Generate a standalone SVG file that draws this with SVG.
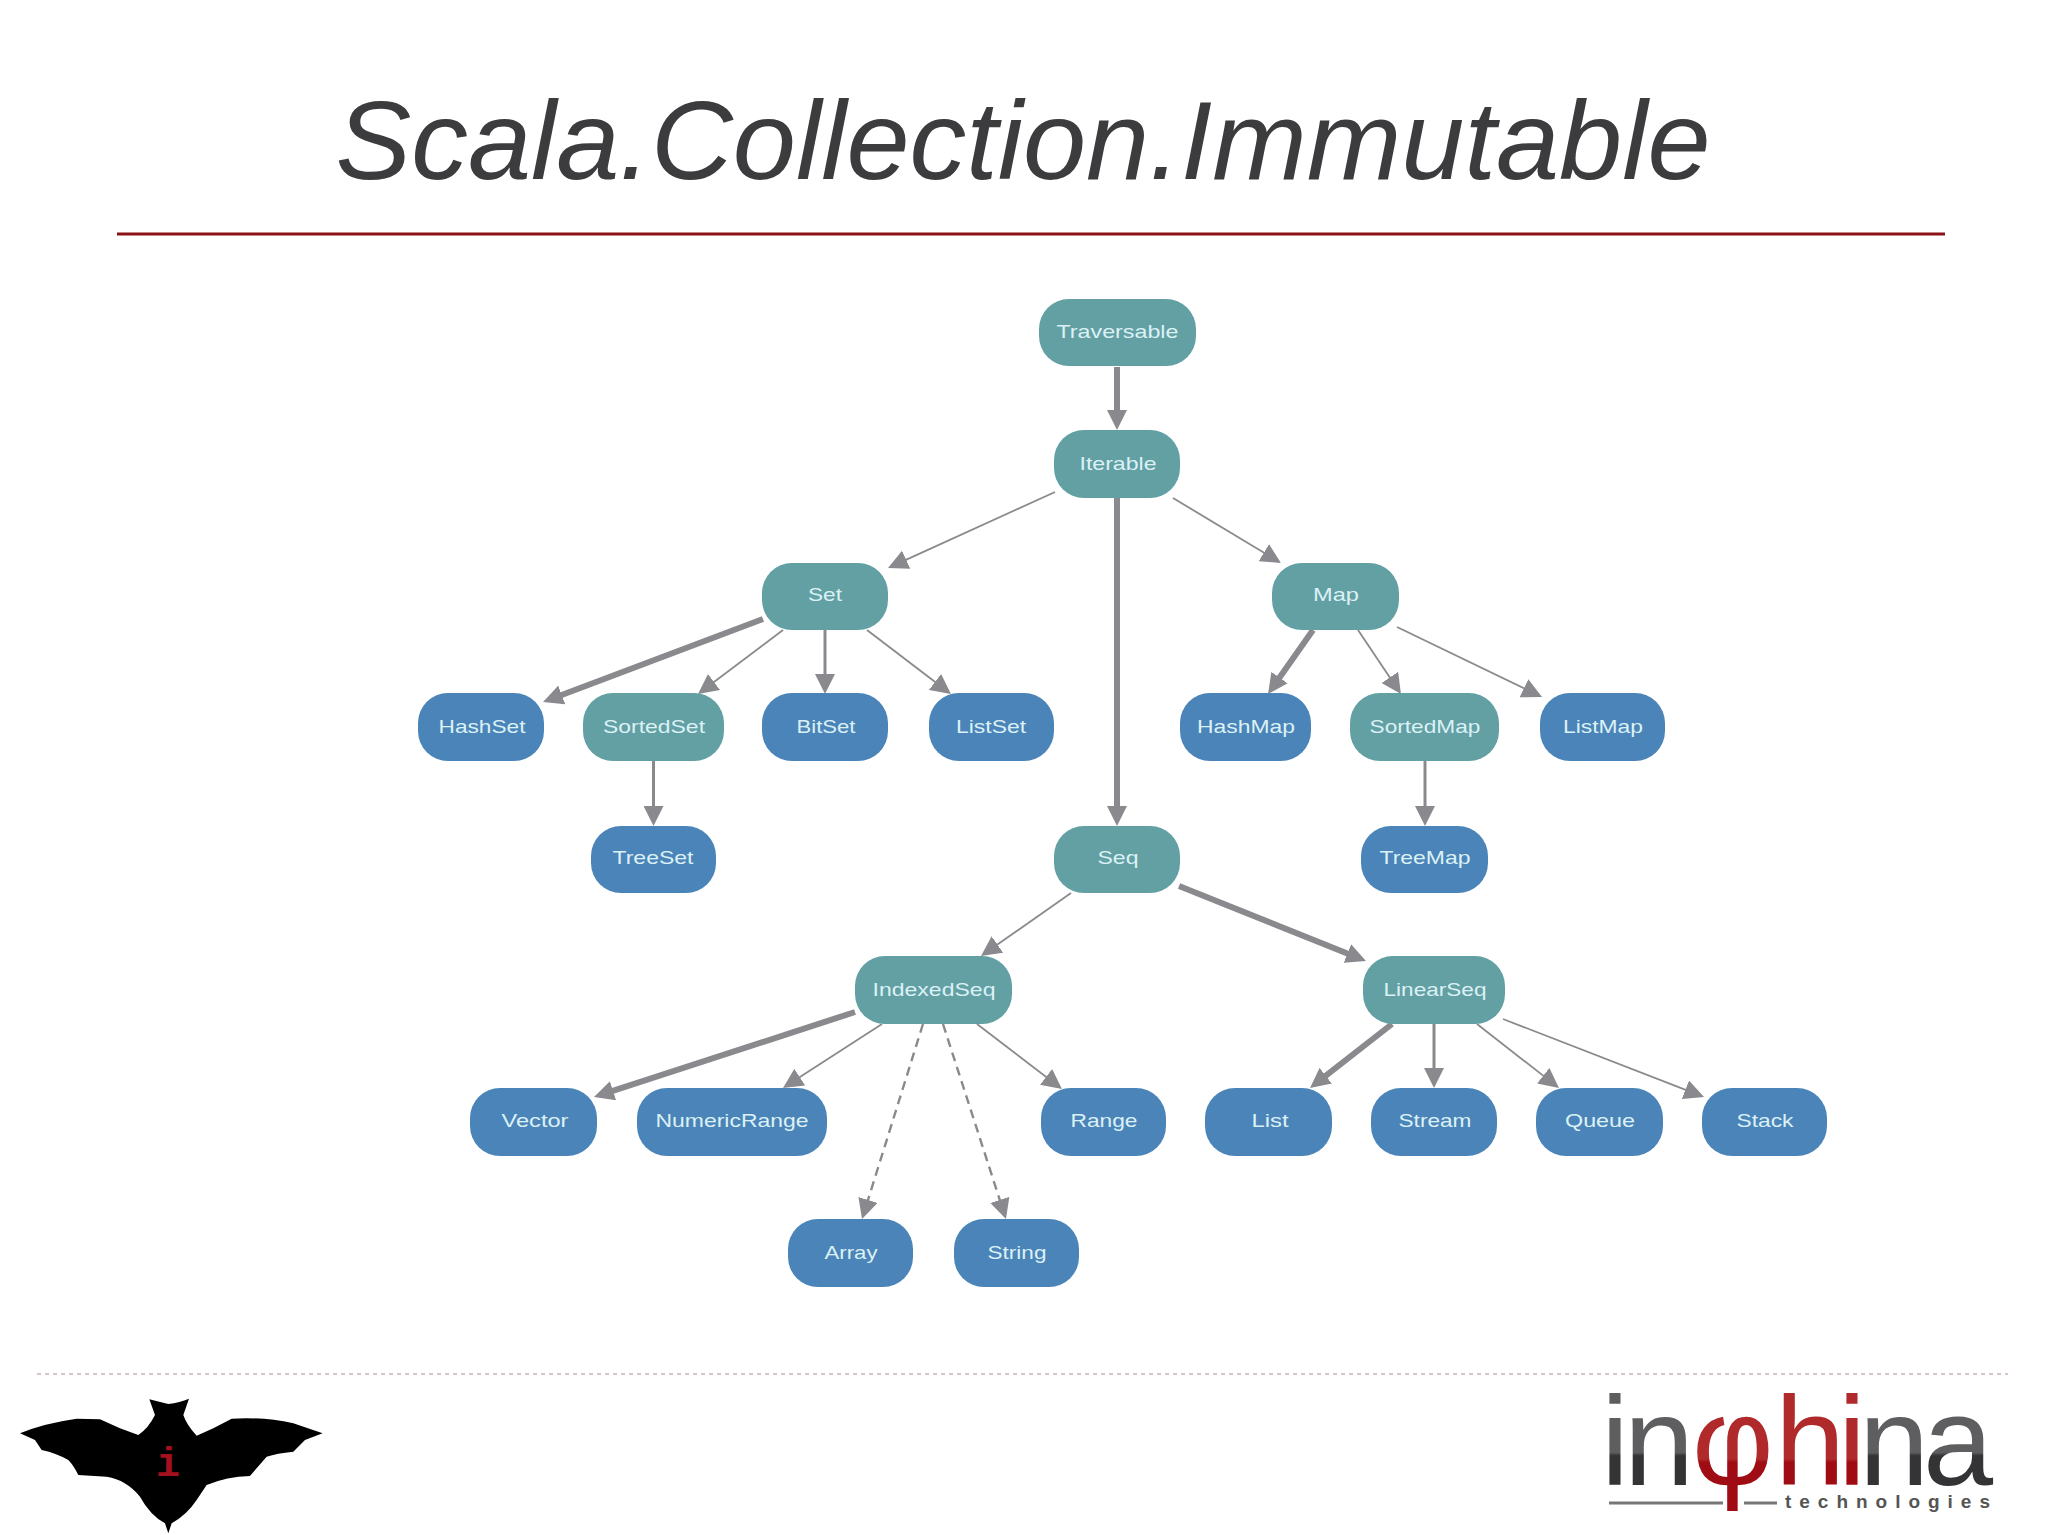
<svg xmlns="http://www.w3.org/2000/svg" width="2048" height="1535" viewBox="0 0 2048 1535">
<style>
text{font-family:"Liberation Sans",Arial,sans-serif}
.n rect{rx:30px;ry:30px}
.t rect{fill:#62a0a3}
.b rect{fill:#4a84b8}
.n text{font-size:19px;text-anchor:middle;fill:#dcf1f6}
#connectors path{fill:none;stroke:#8a8a8e;marker-end:url(#ah)}
.w1{stroke-width:1.8px}
.w2{stroke-width:3px}
.w3{stroke-width:6px}
.d{stroke-dasharray:9 6;stroke-width:2.4px}
.dark{fill:url(#gd)}
.red{fill:url(#gr)}
.logo{font-size:126px}
</style>
<defs>
<marker id="ah" markerUnits="userSpaceOnUse" markerWidth="20" markerHeight="20" refX="10" refY="10" orient="auto"><path d="M0 0L20 10L0 20Z" fill="#8a8a8e"/></marker>
<linearGradient id="gd" x1="0" y1="1420" x2="0" y2="1485" gradientUnits="userSpaceOnUse"><stop offset="0" stop-color="#5e5e60"/><stop offset=".5" stop-color="#5e5e60"/><stop offset=".55" stop-color="#343436"/><stop offset="1" stop-color="#343436"/></linearGradient>
<linearGradient id="gr" x1="0" y1="1420" x2="0" y2="1485" gradientUnits="userSpaceOnUse"><stop offset="0" stop-color="#b02a2c"/><stop offset=".6" stop-color="#b02a2c"/><stop offset=".65" stop-color="#a00c14"/><stop offset="1" stop-color="#a00c14"/></linearGradient>
</defs>
<rect width="2048" height="1535" fill="#fff"/>
<text x="1023" y="179" font-size="112" font-style="italic" fill="#3c3c3e" text-anchor="middle" textLength="1375" lengthAdjust="spacingAndGlyphs">Scala.Collection.Immutable</text>
<path d="M117 234H1945" stroke="#8b1214" stroke-width="3"/>
<path d="M37 1374H2008" stroke="#c9b4b8" stroke-width="1.5" stroke-dasharray="4 4"/>
<g id="connectors">
<path class="w3" d="M1117 367V420"/>
<path class="w1" d="M1055 492L897.1 563.9"/>
<path class="w3" d="M1117 498V816"/>
<path class="w1" d="M1173 498L1272.4 557.8"/>
<path class="w3" d="M763 619L552.4 698.5"/>
<path class="w1" d="M783 630L706 688"/>
<path class="w2" d="M825 630V684"/>
<path class="w1" d="M867 630L943 688"/>
<path class="w2" d="M653.5 761V816"/>
<path class="w3" d="M1313 630L1273.8 685.8"/>
<path class="w1" d="M1358 630L1395.4 685.7"/>
<path class="w1" d="M1397 627L1533 692.6"/>
<path class="w2" d="M1425 761V816"/>
<path class="w1" d="M1071 893L989.2 950.3"/>
<path class="w3" d="M1179 886L1356.7 957.3"/>
<path class="w3" d="M855 1012L603.5 1093.9"/>
<path class="w1" d="M882 1024L791.4 1082.6"/>
<path class="d" d="M923 1024L865 1209.5"/>
<path class="d" d="M943 1024L1002.9 1209.5"/>
<path class="w1" d="M977 1024L1054 1083"/>
<path class="w3" d="M1392 1024L1317.9 1081.9"/>
<path class="w2" d="M1434 1024V1078"/>
<path class="w1" d="M1477 1024L1551.1 1081.9"/>
<path class="w1" d="M1503 1019L1694.7 1093.4"/>
</g>
<g id="Traversable" class="n t"><rect x="1039" y="299" width="157" height="67"/><text x="1117.5" y="338" textLength="122" lengthAdjust="spacingAndGlyphs">Traversable</text></g>
<g id="Iterable" class="n t"><rect x="1054" y="430" width="126" height="68"/><text x="1118" y="470" textLength="77" lengthAdjust="spacingAndGlyphs">Iterable</text></g>
<g id="Set" class="n t"><rect x="762" y="563" width="126" height="67"/><text x="825" y="601" textLength="34" lengthAdjust="spacingAndGlyphs">Set</text></g>
<g id="Map" class="n t"><rect x="1272" y="563" width="127" height="67"/><text x="1336" y="601" textLength="46" lengthAdjust="spacingAndGlyphs">Map</text></g>
<g id="HashSet" class="n b"><rect x="418" y="693" width="126" height="68"/><text x="482" y="733" textLength="87" lengthAdjust="spacingAndGlyphs">HashSet</text></g>
<g id="SortedSet" class="n t"><rect x="583" y="693" width="141" height="68"/><text x="654" y="733" textLength="102" lengthAdjust="spacingAndGlyphs">SortedSet</text></g>
<g id="BitSet" class="n b"><rect x="762" y="693" width="126" height="68"/><text x="826" y="733" textLength="59" lengthAdjust="spacingAndGlyphs">BitSet</text></g>
<g id="ListSet" class="n b"><rect x="929" y="693" width="125" height="68"/><text x="991" y="733" textLength="70" lengthAdjust="spacingAndGlyphs">ListSet</text></g>
<g id="HashMap" class="n b"><rect x="1180" y="693" width="131" height="68"/><text x="1246" y="733" textLength="98" lengthAdjust="spacingAndGlyphs">HashMap</text></g>
<g id="SortedMap" class="n t"><rect x="1350" y="693" width="149" height="68"/><text x="1425" y="733" textLength="111" lengthAdjust="spacingAndGlyphs">SortedMap</text></g>
<g id="ListMap" class="n b"><rect x="1540" y="693" width="125" height="68"/><text x="1603" y="733" textLength="80" lengthAdjust="spacingAndGlyphs">ListMap</text></g>
<g id="TreeSet" class="n b"><rect x="591" y="826" width="125" height="67"/><text x="653" y="864" textLength="81" lengthAdjust="spacingAndGlyphs">TreeSet</text></g>
<g id="Seq" class="n t"><rect x="1054" y="826" width="126" height="67"/><text x="1118" y="864" textLength="41" lengthAdjust="spacingAndGlyphs">Seq</text></g>
<g id="TreeMap" class="n b"><rect x="1361" y="826" width="127" height="67"/><text x="1425" y="864" textLength="91" lengthAdjust="spacingAndGlyphs">TreeMap</text></g>
<g id="IndexedSeq" class="n t"><rect x="855" y="956" width="157" height="68"/><text x="934" y="996" textLength="123" lengthAdjust="spacingAndGlyphs">IndexedSeq</text></g>
<g id="LinearSeq" class="n t"><rect x="1363" y="956" width="142" height="68"/><text x="1435" y="996" textLength="103" lengthAdjust="spacingAndGlyphs">LinearSeq</text></g>
<g id="Vector" class="n b"><rect x="470" y="1088" width="127" height="68"/><text x="535" y="1127" textLength="67" lengthAdjust="spacingAndGlyphs">Vector</text></g>
<g id="NumericRange" class="n b"><rect x="637" y="1088" width="190" height="68"/><text x="732" y="1127" textLength="153" lengthAdjust="spacingAndGlyphs">NumericRange</text></g>
<g id="Range" class="n b"><rect x="1041" y="1088" width="125" height="68"/><text x="1104" y="1127" textLength="67" lengthAdjust="spacingAndGlyphs">Range</text></g>
<g id="List" class="n b"><rect x="1205" y="1088" width="127" height="68"/><text x="1270" y="1127" textLength="37" lengthAdjust="spacingAndGlyphs">List</text></g>
<g id="Stream" class="n b"><rect x="1371" y="1088" width="126" height="68"/><text x="1435" y="1127" textLength="73" lengthAdjust="spacingAndGlyphs">Stream</text></g>
<g id="Queue" class="n b"><rect x="1536" y="1088" width="127" height="68"/><text x="1600" y="1127" textLength="70" lengthAdjust="spacingAndGlyphs">Queue</text></g>
<g id="Stack" class="n b"><rect x="1702" y="1088" width="125" height="68"/><text x="1765" y="1127" textLength="57" lengthAdjust="spacingAndGlyphs">Stack</text></g>
<g id="Array" class="n b"><rect x="788" y="1219" width="125" height="68"/><text x="851" y="1259" textLength="53" lengthAdjust="spacingAndGlyphs">Array</text></g>
<g id="String" class="n b"><rect x="954" y="1219" width="125" height="68"/><text x="1017" y="1259" textLength="59" lengthAdjust="spacingAndGlyphs">String</text></g>
<g id="bat">
<path transform="translate(0 1340) scale(.3333)" fill="#000" d="M60 280Q130 250 230 236L300 238L360 265L415 285Q445 265 465 225L448 178Q475 185 505 192Q540 188 567 176L550 225Q560 255 590 287L640 265L695 236Q790 230 880 250L968 280L915 300L880 335Q830 340 800 350L750 408Q680 410 620 435L590 480Q560 525 515 550L505 580L495 550Q450 525 420 470Q380 420 320 410L235 405Q220 375 205 360Q170 340 125 330L105 300Z"/>
<text x="168" y="1476" font-size="40" font-weight="bold" text-anchor="middle" fill="#a5101f" style="font-family:'Liberation Mono',monospace">i</text>
</g>
<g id="logo">
<text class="logo" y="1485"><tspan class="dark" x="1601">i</tspan><tspan class="dark" x="1624">n</tspan><tspan class="red" x="1692">φ</tspan><tspan class="red" x="1775">h</tspan><tspan class="red" x="1838">i</tspan><tspan class="dark" x="1859">n</tspan><tspan class="dark" x="1923">a</tspan></text>
<path d="M1609 1503H1723M1744 1503H1777" stroke="#777" stroke-width="3" fill="none"/>
<text x="1785" y="1508" font-size="19" font-weight="bold" fill="#555" textLength="205">technologies</text>
</g>
</svg>
